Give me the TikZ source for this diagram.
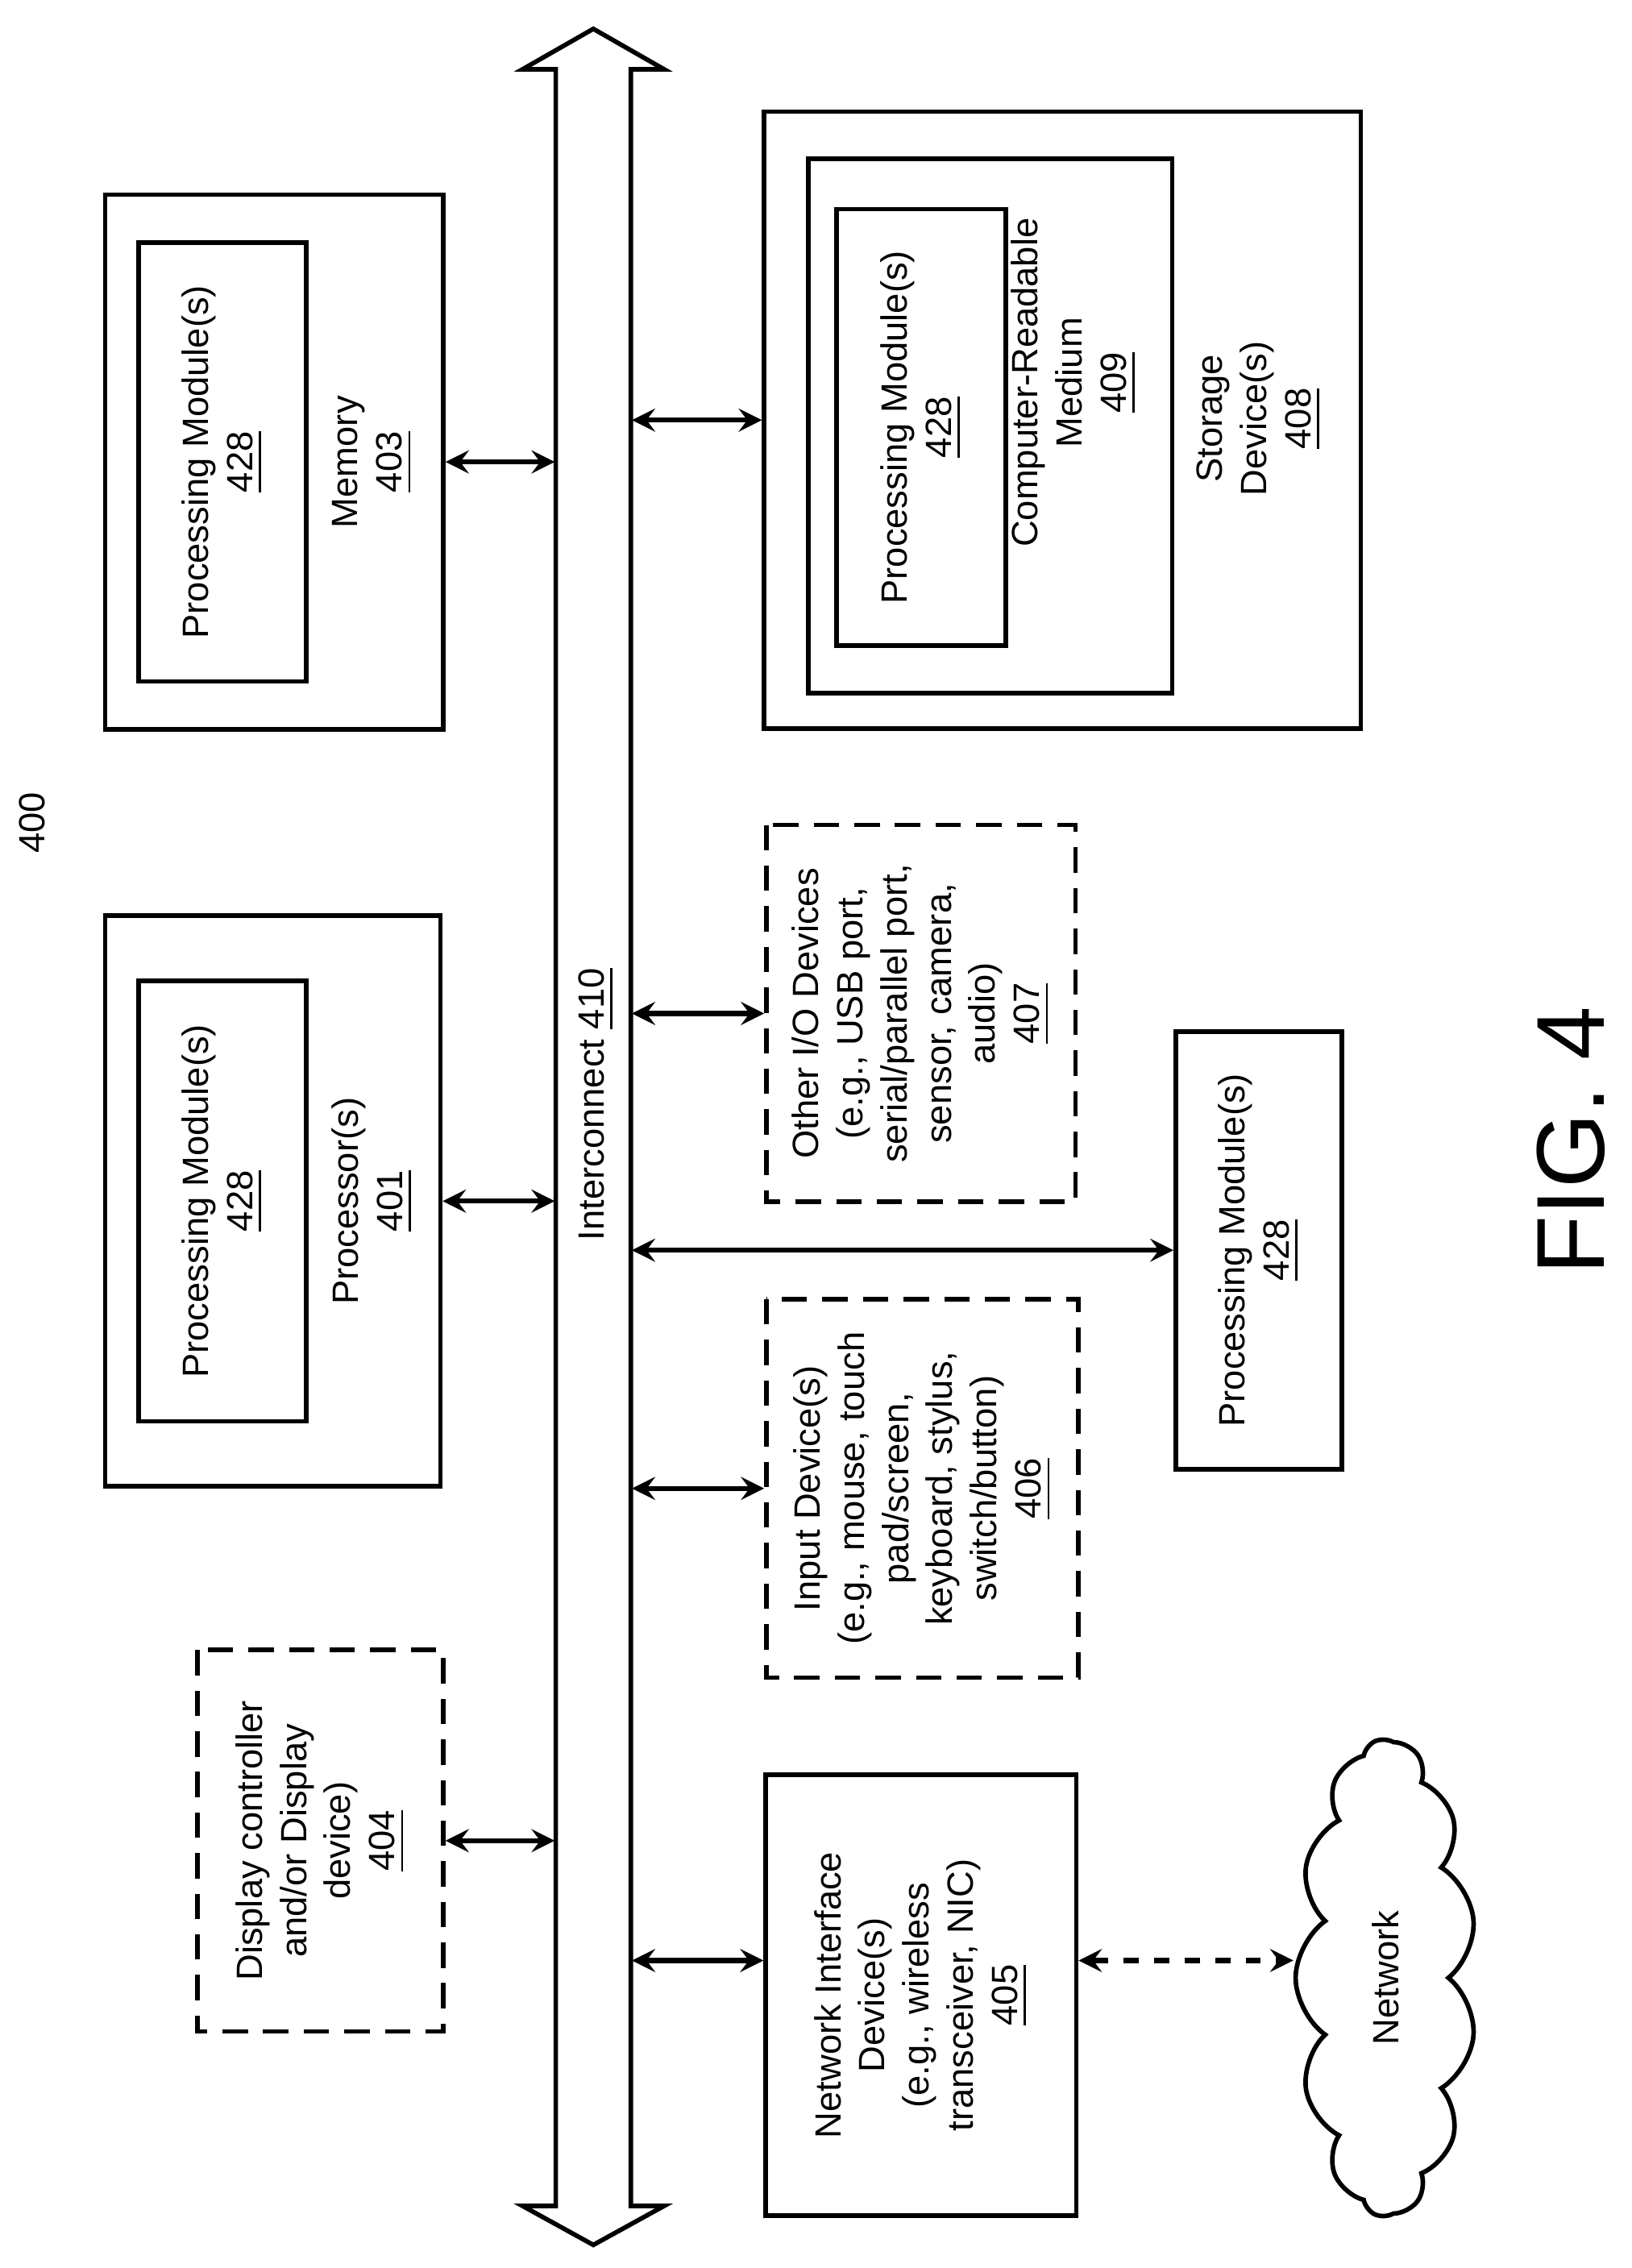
\documentclass[tikz,border=0pt]{standalone}
\usepackage{fontspec}
\setmainfont{Liberation Sans}
\usetikzlibrary{shapes, arrows, positioning, fit, calc}

\begin{document}
\begin{tikzpicture}[
    x=0.01cm, y=-0.01cm,
    every node/.style={font=\fontsize{7.2}{8.7}\selectfont},
    box/.style={rectangle, draw, line width=0.9pt, inner sep=0pt},
    dbox/.style={box, dashed, dash pattern=on 5pt off 3pt},
    txt/.style={rotate=90, align=center},
    link/.style={<->, >=stealth, line width=1pt},
    nlink/.style={link, dashed}
]
    \useasboundingbox (0,0) rectangle (1130,1571);

    % Interconnect
    \node[inner sep=0pt, minimum width=0.52cm, minimum height=14.8cm] (bus) at (411,787) {};
    \draw[line width=0.9pt, fill=white] (385,48) -- (362,48) -- (411,20) -- (460,48) -- (437,48)
        -- (437,1528) -- (460,1528) -- (411,1555) -- (362,1528) -- (385,1528) -- cycle;
    \node[txt] (buslabel) at (413,765) {Interconnect \underline{410}};

    \node[rotate=90] (fignum) at (22,570) {400};

    % Memory
    \node[box, minimum width=2.34cm, minimum height=3.7cm] (mem) at (190,320) {};
    \node[box, minimum width=1.16cm, minimum height=3.04cm] (memmod) at (154,320) {};
    \node[txt] at (154,320) {Processing Module(s)\\\underline{428}};
    \node[txt] at (258,320) {Memory\\\underline{403}};

    % Processor
    \node[box, minimum width=2.32cm, minimum height=3.95cm] (cpu) at (189,832) {};
    \node[box, minimum width=1.16cm, minimum height=3.05cm] (cpumod) at (154,832) {};
    \node[txt] at (154,832) {Processing Module(s)\\\underline{428}};
    \node[txt] at (258,832) {Processor(s)\\\underline{401}};

    % Display
    \node[dbox, minimum height=1.7cm, minimum width=2.64cm, txt] (disp) at (222,1275)
        {Display controller\\and/or Display\\device)\\\underline{404}};

    % Storage
    \node[box, minimum width=4.13cm, minimum height=4.27cm] (stor) at (736,291) {};
    \node[box, minimum width=2.52cm, minimum height=3.7cm] (crm) at (686,295) {};
    \node[box, minimum width=1.17cm, minimum height=3.02cm] (stormod) at (638,296) {};
    \node[txt] at (638,296) {Processing Module(s)\\\underline{428}};
    \node[txt] at (744,265) {Computer-Readable\\Medium\\\underline{409}};
    \node[txt] at (872,290) {Storage\\Device(s)\\\underline{408}};

    % Other I/O
    \node[dbox, minimum height=2.14cm, minimum width=2.61cm, txt] (io) at (638,702)
        {Other I/O Devices\\(e.g., USB port,\\serial/parallel port,\\sensor, camera,\\audio)\\\underline{407}};

    % Input
    \node[dbox, minimum height=2.16cm, minimum width=2.62cm, txt] (inp) at (639,1031)
        {Input Device(s)\\(e.g., mouse, touch\\pad/screen,\\keyboard, stylus,\\switch/button)\\\underline{406}};

    % Network interface
    \node[box, minimum height=2.15cm, minimum width=3.05cm, txt] (nic) at (638,1382)
        {Network Interface\\Device(s)\\(e.g., wireless\\transceiver, NIC)\\\underline{405}};

    % Processing module
    \node[box, minimum height=1.15cm, minimum width=3.03cm, txt] (pm) at (872,866)
        {Processing Module(s)\\\underline{428}};

    % Network
    \node[cloud, draw, line width=0.9pt, cloud puffs=13, cloud puff arc=110, aspect=2.6,
        inner sep=0pt, minimum width=3.3cm, minimum height=1.25cm, txt] (net) at (960,1370) {Network};

    \node[rotate=90, font=\fontsize{19}{21}\selectfont] (fig) at (1088,790) {FIG. 4};

    % Connections
    \draw[link] (mem.east) -- (mem.east -| bus.west);
    \draw[link] (cpu.east) -- (cpu.east -| bus.west);
    \draw[link] (disp.south) -- (disp.south -| bus.west);
    \draw[link] (stor.west) -- (stor.west -| bus.east);
    \draw[link] (io.north) -- (io.north -| bus.east);
    \draw[link] (inp.north) -- (inp.north -| bus.east);
    \draw[link] (pm.north -| bus.east) -- (pm.north);
    \draw[link] ([yshift=0.24cm]nic.north) -- ([yshift=0.24cm]nic.north -| bus.east);
    \draw[nlink] ([yshift=0.24cm]nic.south) -- ([yshift=0.24cm]nic.south -| net.north);
\end{tikzpicture}
\end{document}
